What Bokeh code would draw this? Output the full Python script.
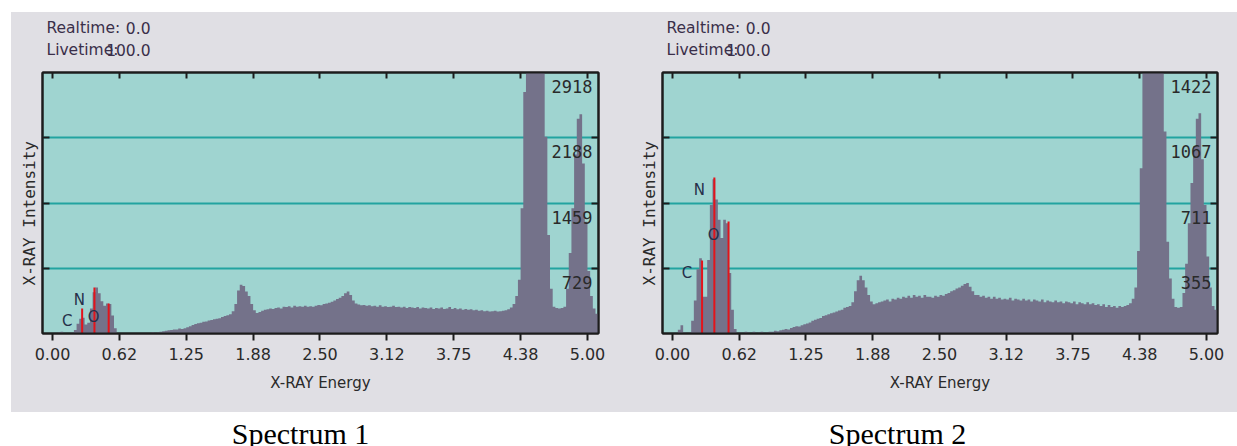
import math
from bokeh.plotting import figure
from bokeh.models import Range1d, LinearAxis, FixedTicker, Label, Spacer, Title
from bokeh.layouts import row, column
from bokeh.core.properties import value
from bokeh.embed import file_html
from bokeh.resources import INLINE

# ---------------- data ----------------
BIN = 0.025  # keV per channel
x_ticks = [0.0, 0.625, 1.25, 1.875, 2.5, 3.125, 3.75, 4.375, 5.0]
x_tick_labels = ["0.00", "0.62", "1.25", "1.88", "2.50", "3.12", "3.75", "4.38", "5.00"]
y_ticks_1 = [729, 1459, 2188, 2918]
y_ticks_2 = [355, 711, 1067, 1422]

counts_1 = [
    0, 0, 10, 20, 0, 0,
    0, 10, 40, 110, 165, 175,
    100, 120, 280, 460, 515, 450,
    360, 310, 335, 330, 200, 60,
    0, 0, 0, 0, 0, 0,
    0, 0, 0, 0, 0, 0,
    0, 15, 0, 10, 20, 25,
    30, 35, 40, 45, 45, 55,
    50, 60, 70, 80, 95, 105,
    115, 120, 130, 135, 145, 150,
    160, 165, 170, 185, 195, 205,
    215, 250, 330, 480, 545, 530,
    470, 420, 330, 260, 230, 240,
    255, 265, 270, 280, 275, 285,
    290, 280, 300, 295, 305, 290,
    310, 300, 305, 300, 310, 300,
    305, 300, 310, 320, 315, 330,
    335, 345, 355, 370, 385, 400,
    420, 450, 470, 430, 370, 335,
    325, 315, 320, 310, 315, 305,
    310, 300, 315, 300, 305, 295,
    300, 310, 295, 300, 290, 300,
    285, 295, 290, 285, 295, 280,
    290, 285, 280, 290, 275, 285,
    280, 290, 275, 280, 295, 275,
    285, 270, 280, 265, 275, 265,
    270, 260, 265, 255, 260, 250,
    255, 245, 250, 255, 245, 250,
    255, 260, 270, 290, 330, 420,
    600, 1400, 2700, 3600, 3800, 3900,
    3900, 3800, 3600, 3300, 2200, 1100,
    500, 300, 285, 280, 285, 300,
    500, 900, 1400, 2000, 2400, 2450,
    1900, 1250, 700, 420, 280, 220,
]

counts_2 = [
    0, 0, 20, 45, 5, 0,
    5, 70, 180, 350, 410, 200,
    200, 400, 700, 840, 730, 620,
    520, 620, 600, 330, 130, 25,
    0, 5, 0, 10, 5, 0,
    10, 0, 5, 10, 0, 5,
    10, 10, 15, 12, 18, 20,
    25, 22, 30, 35, 40, 38,
    45, 50, 55, 60, 70, 75,
    80, 85, 95, 100, 105, 110,
    115, 120, 125, 130, 140, 145,
    150, 170, 230, 290, 315, 290,
    250, 210, 175, 160, 165, 170,
    175, 180, 185, 175, 190, 185,
    195, 190, 200, 195, 205, 195,
    210, 200, 205, 195, 210, 200,
    200, 195, 205, 200, 210, 205,
    215, 220, 230, 235, 245, 250,
    260, 270, 275, 255, 230, 210,
    210, 200, 205, 195, 200, 190,
    200, 190, 195, 185, 190, 185,
    195, 180, 190, 185, 180, 190,
    180, 185, 175, 185, 180, 175,
    185, 170, 180, 175, 170, 180,
    170, 175, 165, 175, 170, 165,
    175, 160, 170, 165, 160, 170,
    160, 165, 155, 160, 150, 160,
    145, 155, 145, 150, 140, 150,
    145, 150, 155, 165, 190, 250,
    450, 900, 1600, 1900, 2000, 2050,
    2050, 2000, 1900, 1750, 1100, 500,
    300, 190, 145, 140, 145, 220,
    380, 600, 820, 1020, 1170, 1200,
    950, 700, 420, 250, 150, 130,
]

elements = ["C", "N", "O"]
element_energy = [0.277, 0.392, 0.525]
line_height_1 = [280, 515, 335]
line_height_2 = [398, 850, 610]

header_keys = ["Realtime:", "Livetime:"]
header_values = ["0.0", "100.0"]
y_label = "X-RAY Intensity"
x_label = "X-RAY Energy"
captions = ["Spectrum 1", "Spectrum 2"]

# ---------------- style ----------------
PANEL_BG = "#e0dfe4"
PLOT_BG = "#9fd4d0"
SPEC = "#74728a"
GRID = "#22a3a0"
RED = "#e3141b"
DARK = "#1c1c1c"
TEXT = "#2a2a2a"
HEAD = "#3a2f4a"
ELEM = "#26304a"
SANS = "DejaVu Sans"
MONO = "DejaVu Sans Mono"

X0, X1 = -0.0935, 5.103
HEAD_H = 52
MAIN_H = 348


def blank_axis(ax, ticks, tick_in):
    ax.ticker = FixedTicker(ticks=ticks)
    ax.major_label_overrides = {t: "" for t in ticks}
    ax.major_label_text_font_size = "2px"
    ax.major_tick_in = tick_in
    ax.major_tick_out = 0
    ax.minor_tick_in = 0
    ax.minor_tick_out = 0
    ax.major_tick_line_width = 2
    ax.major_tick_line_color = DARK
    ax.axis_line_color = DARK
    ax.axis_line_width = 2
    ax.major_label_standoff = 0


def header(width, bl, br):
    fw = width - bl - br  # the header frame is aligned with the plot frame below it
    h = figure(width=width, height=HEAD_H, x_range=Range1d(0, fw), y_range=Range1d(0, HEAD_H),
               output_backend="svg", toolbar_location=None, min_border=0,
               x_axis_location=None, y_axis_location=None,
               background_fill_color=PANEL_BG, border_fill_color=PANEL_BG)
    h.outline_line_color = None
    h.grid.visible = False
    for key, val, yy in zip(header_keys, header_values, [37, 15]):
        h.add_layout(Label(x=4, y=yy, text=key, text_align="left", text_baseline="middle",
                           text_font=SANS, text_font_size="15.5px", text_color=HEAD))
        h.add_layout(Label(x=108, y=yy, text=val, text_align="right", text_baseline="middle",
                           text_font=SANS, text_font_size="15.5px", text_color=HEAD))
    return h


def panel(counts, yticks, line_h, width, bl, br):
    ymax = yticks[-1]
    p = figure(width=width, height=MAIN_H, x_range=Range1d(X0, X1), y_range=Range1d(0, ymax),
               output_backend="svg", toolbar_location=None,
               min_border_left=bl, min_border_right=br, min_border_top=8, min_border_bottom=79,
               background_fill_color=PLOT_BG, border_fill_color=PANEL_BG)

    p.outline_line_color = DARK
    p.outline_line_width = 2
    p.xgrid.visible = False
    p.ygrid.ticker = FixedTicker(ticks=yticks[:-1])
    p.ygrid.grid_line_color = GRID
    p.ygrid.grid_line_width = 2

    edges = [i * BIN for i in range(len(counts) + 1)]
    p.varea_step(x=edges, y1=[0] * len(edges), y2=counts + [counts[-1]],
                 step_mode="after", fill_color=SPEC)

    p.segment(x0=element_energy, y0=[0] * len(elements), x1=element_energy, y1=line_h,
              line_color=RED, line_width=2)
    p.text(x=element_energy, y=line_h, text=elements, x_offset=-15, y_offset=13,
           text_align="center", text_baseline="middle", text_font=value(SANS),
           text_font_size="15px", text_color=ELEM)

    p.text(x=[X1] * len(yticks), y=yticks, text=[str(v) for v in yticks],
           x_offset=-6, y_offset=14, text_align="right", text_baseline="middle",
           text_font=value(MONO), text_font_size="17px", text_color=TEXT)

    # axes
    xa = p.xaxis[0]
    xa.ticker = FixedTicker(ticks=x_ticks)
    xa.major_label_overrides = {t: l for t, l in zip(x_ticks, x_tick_labels)}
    xa.major_tick_out = 7
    xa.major_tick_in = 0
    xa.minor_tick_out = 0
    xa.minor_tick_in = 0
    xa.major_tick_line_width = 2
    xa.major_tick_line_color = DARK
    xa.axis_line_color = DARK
    xa.axis_line_width = 2
    xa.major_label_text_font = SANS
    xa.major_label_text_font_size = "16px"
    xa.major_label_text_color = TEXT
    xa.major_label_standoff = 7
    xa.axis_label = x_label
    xa.axis_label_text_font = SANS
    xa.axis_label_text_font_size = "15px"
    xa.axis_label_text_font_style = "normal"
    xa.axis_label_text_color = TEXT
    xa.axis_label_standoff = 11

    top = LinearAxis()
    blank_axis(top, x_ticks, 6)
    p.add_layout(top, "above")

    blank_axis(p.yaxis[0], yticks[:-1], 7)
    right = LinearAxis()
    blank_axis(right, yticks[:-1], 7)
    p.add_layout(right, "right")

    p.add_layout(Title(text=y_label, align="left", offset=48, standoff=7,
                       text_font=MONO, text_font_size="16px", text_font_style="normal",
                       text_color=TEXT), "left")
    return p


h1 = header(619, 31, 32)
h2 = header(607, 32, 20)
p1 = panel(counts_1, y_ticks_1, line_height_1, 619, 31, 32)
p2 = panel(counts_2, y_ticks_2, line_height_2, 607, 32, 20)

cap = figure(width=1237, height=34, x_range=Range1d(0, 1237), y_range=Range1d(0, 34),
             output_backend="svg", toolbar_location=None, min_border=0,
             x_axis_location=None, y_axis_location=None,
             background_fill_color="white", border_fill_color="white")
cap.outline_line_color = None
cap.grid.visible = False
for txt, cx in zip(captions, [300, 897]):
    cap.add_layout(Label(x=cx, y=13, text=txt, text_align="center", text_baseline="middle",
                         text_font="Liberation Serif", text_font_size="30px", text_color="#000000"))

panels = row(column(h1, p1), column(h2, p2), styles={"background-color": PANEL_BG})
layout = column(Spacer(width=1237, height=12),
                row(Spacer(width=11, height=400), panels),
                cap)

with open("out.html", "w") as f:
    f.write(file_html(layout, INLINE))
